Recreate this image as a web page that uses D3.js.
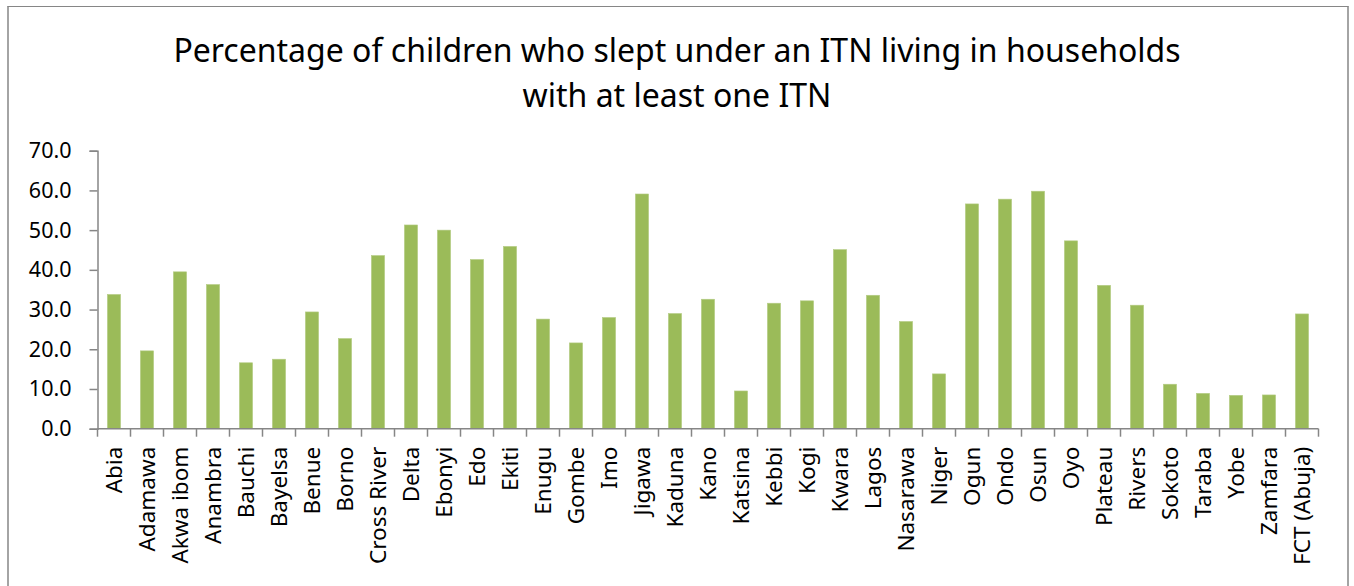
<!DOCTYPE html>
<html>
<head>
<meta charset="utf-8">
<script src="https://cdn.jsdelivr.net/npm/d3@7"></script>
<style>
  html, body { margin: 0; padding: 0; background: #fff; }
  svg { display: block; }
  text { font-family: "Noto Sans", "Open Sans", sans-serif; fill: #000; }
</style>
</head>
<body>
<svg id="chart" width="1354" height="586"></svg>
<script>
const titleLines = [
  "Percentage of children who slept under an ITN living in households",
  "with at least one ITN"
];
const states = ["Abia","Adamawa","Akwa ibom","Anambra","Bauchi","Bayelsa","Benue","Borno",
  "Cross River","Delta","Ebonyi","Edo","Ekiti","Enugu","Gombe","Imo","Jigawa","Kaduna",
  "Kano","Katsina","Kebbi","Kogi","Kwara","Lagos","Nasarawa","Niger","Ogun","Ondo","Osun",
  "Oyo","Plateau","Rivers","Sokoto","Taraba","Yobe","Zamfara","FCT (Abuja)"];
const values = [33.8,19.6,39.5,36.3,16.6,17.5,29.4,22.7,
  43.6,51.3,50.0,42.6,45.9,27.6,21.6,28.0,59.1,29.0,
  32.6,9.5,31.6,32.2,45.1,33.6,27.0,13.8,56.6,57.8,59.8,
  47.3,36.1,31.1,11.2,8.9,8.4,8.5,28.9];
const yTicks = [0,10,20,30,40,50,60,70];

(function () {
const svg = d3.select("#chart");
const W = 1354, H = 586;
const mLeft = 97.5, mRight = 1318.5, mTop = 150.7, mBottom = 428.7;
const axisColor = "#868686";
const barColor = "#9BBB59";

// outer frame
svg.append("line").attr("x1", 8).attr("x2", 8).attr("y1", 6.5).attr("y2", H + 2)
  .attr("stroke", axisColor).attr("stroke-width", 1.5);
svg.append("line").attr("x1", 7.25).attr("x2", 1348.75).attr("y1", 6.5).attr("y2", 6.5)
  .attr("stroke", axisColor).attr("stroke-width", 1);
svg.append("line").attr("x1", 1348).attr("x2", 1348).attr("y1", 6.5).attr("y2", H + 2)
  .attr("stroke", axisColor).attr("stroke-width", 1.5);

// title
const title = svg.append("text").attr("text-anchor", "middle").style("font-size", "32px");
title.selectAll("tspan").data(titleLines).join("tspan")
  .attr("x", 677).attr("y", (d, i) => 61.5 + i * 45).text(d => d);

const x = d3.scaleBand().domain(states).range([mLeft, mRight]).paddingInner(0.6).paddingOuter(0.3);
const y = d3.scaleLinear().domain([0, 70]).range([mBottom, mTop]);

// bars
svg.append("g").selectAll("rect").data(values).join("rect")
  .attr("x", (d, i) => x(states[i]))
  .attr("y", d => y(d))
  .attr("width", x.bandwidth())
  .attr("height", d => mBottom - y(d))
  .attr("fill", barColor)
  .attr("stroke", "#b5cc85").attr("stroke-width", 0.6);

// y axis
const yAxis = svg.append("g").attr("transform", `translate(${mLeft},0)`)
  .call(d3.axisLeft(y).tickValues(yTicks).tickFormat(d3.format(".1f")).tickSize(8).tickPadding(18));
yAxis.select(".domain").attr("stroke", axisColor).attr("stroke-width", 1.5);
yAxis.selectAll(".tick line").attr("stroke", axisColor).attr("stroke-width", 1.5);
yAxis.selectAll("text").style("font-size", "21.5px").style("font-family", "\"Noto Sans\", sans-serif");

// x axis with ticks at category boundaries
const boundaries = d3.range(states.length + 1).map(i => mLeft + i * x.step());
const xAxis = svg.append("g").attr("transform", `translate(0,${mBottom})`);
xAxis.append("line").attr("x1", mLeft).attr("x2", mRight).attr("y1", 0).attr("y2", 0)
  .attr("stroke", axisColor).attr("stroke-width", 1.5);
xAxis.selectAll("line.tk").data(boundaries).join("line").attr("class", "tk")
  .attr("x1", d => d).attr("x2", d => d).attr("y1", 0).attr("y2", 8)
  .attr("stroke", axisColor).attr("stroke-width", 1.5);
xAxis.selectAll("text").data(states).join("text")
  .attr("transform", d => `translate(${x(d) + x.bandwidth() / 2},${18}) rotate(-90)`)
  .attr("text-anchor", "end").attr("dy", "0.37em")
  .style("font-size", "22.5px")
  .text(d => d);
})();
</script>
</body>
</html>
